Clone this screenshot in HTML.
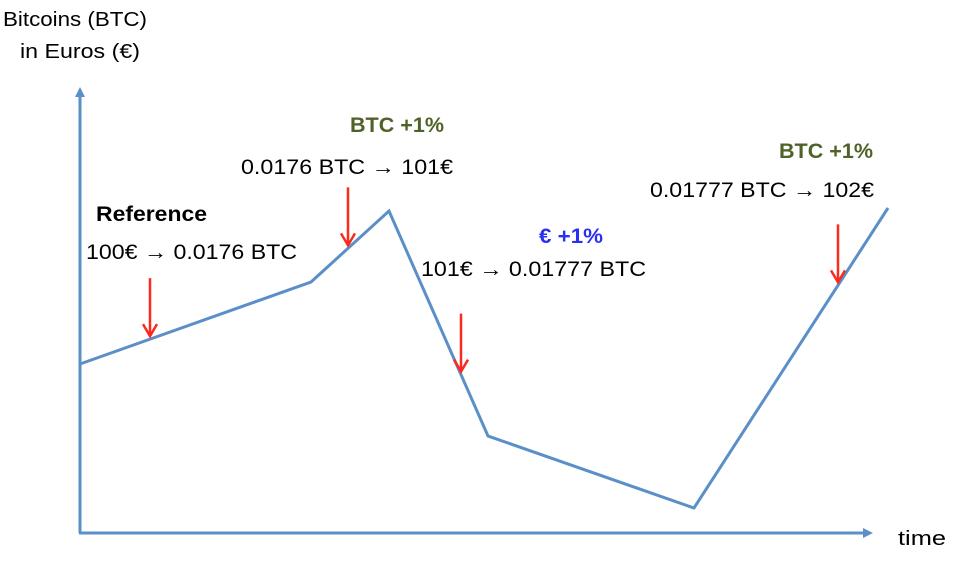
<!DOCTYPE html>
<html><head><meta charset="utf-8"><style>
html,body{margin:0;padding:0;background:#fff;}
svg{display:block;font-family:"Liberation Sans",sans-serif;}
</style></head><body>
<svg id="chart" width="960" height="562" viewBox="0 0 960 562">
<defs>
<marker id="ah" markerWidth="10" markerHeight="10" refX="5" refY="5" orient="auto" markerUnits="userSpaceOnUse"><path d="M0,0 L10,5 L0,10 Z" fill="#5b8fc7"/></marker>
</defs>
<line x1="80" y1="533" x2="80" y2="92" stroke="#5b8fc7" stroke-width="3" marker-end="url(#ah)"/>
<line x1="79" y1="533" x2="868" y2="533" stroke="#5b8fc7" stroke-width="3" marker-end="url(#ah)"/>
<text x="75" y="26" font-size="20" text-anchor="middle" textLength="144" lengthAdjust="spacingAndGlyphs">Bitcoins (BTC)</text>
<text x="80" y="58" font-size="20" text-anchor="middle" textLength="120" lengthAdjust="spacingAndGlyphs">in Euros (€)</text>
<text x="898" y="545" font-size="20" textLength="48" lengthAdjust="spacingAndGlyphs">time</text>
<g id="series"></g>
<g id="notes"></g>
</svg>
<script>
const times = [0, 231, 309, 408, 614, 808];
const prices = [168, 250, 321, 96, 24, 324];
const arrowTimes = [70, 268, 381, 758];
const x = t => 80 + t;
const y = v => 532 - v;
const svg = document.getElementById('series');
const NS = 'http://www.w3.org/2000/svg';
const pl = document.createElementNS(NS, 'polyline');


pl.setAttribute('points', times.map((t, i) => x(t) + ',' + y(prices[i])).join(' '));
pl.setAttribute('fill', 'none');
pl.setAttribute('stroke', '#5b8fc7');
pl.setAttribute('stroke-width', '3');
svg.appendChild(pl);
function valAt(t){for(let i=0;i<times.length-1;i++){if(t>=times[i]&&t<=times[i+1]){const f=(t-times[i])/(times[i+1]-times[i]);return prices[i]+f*(prices[i+1]-prices[i]);}}return prices[0];}
arrowTimes.forEach(t => {
  const g = document.createElementNS(NS, 'path');
  
  
  const px = x(t), tip = y(valAt(t)) - 3, top = tip - 58;
  g.setAttribute('d', `M${px},${top} L${px},${tip} M${px-7},${tip-12} L${px},${tip} L${px+7},${tip-12}`);
  g.setAttribute('stroke', '#fa2a1e');
  g.setAttribute('stroke-width', '2.5');
  g.setAttribute('fill', 'none');
  svg.appendChild(g);
});
const notes = document.getElementById('notes');
const labels = [
  ['reference-label', 96, 221, 'Reference', 111, '#000', 'bold'],
  ['reference-conversion', 86, 259, '100€ → 0.0176 BTC', 211, '#000', 'normal'],
  ['btc-up-label-1', 350, 132, 'BTC +1%', 94, '#4f6228', 'bold'],
  ['btc-conversion-1', 241, 174, '0.0176 BTC → 101€', 212, '#000', 'normal'],
  ['euro-up-label', 539, 243, '€ +1%', 64, '#2a30f0', 'bold'],
  ['euro-conversion', 421, 276, '101€ → 0.01777 BTC', 225, '#000', 'normal'],
  ['btc-up-label-2', 779, 158, 'BTC +1%', 94, '#4f6228', 'bold'],
  ['btc-conversion-2', 650, 197, '0.01777 BTC → 102€', 224, '#000', 'normal']
];
labels.forEach(l => {
  const tx = document.createElementNS(NS, 'text');
  
  
  tx.setAttribute('x', l[1]); tx.setAttribute('y', l[2]);
  tx.setAttribute('font-size', '21');
  tx.setAttribute('fill', l[5]);
  tx.setAttribute('font-weight', l[6]);
  tx.setAttribute('textLength', l[4]);
  tx.setAttribute('lengthAdjust', 'spacingAndGlyphs');
  tx.textContent = l[3];
  notes.appendChild(tx);
});
</script>
</body></html>
